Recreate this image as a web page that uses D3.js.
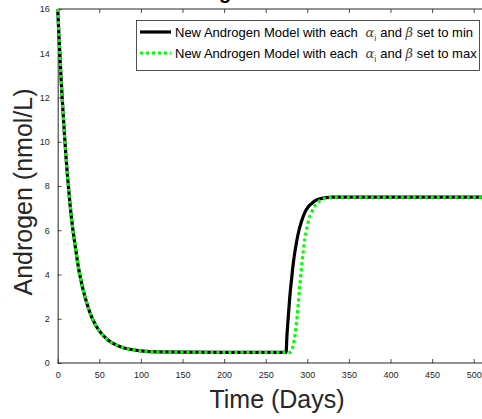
<!DOCTYPE html>
<html>
<head>
<meta charset="utf-8">
<script src="https://cdn.jsdelivr.net/npm/d3@7"></script>
<style>
  body { margin: 0; background: #fff; }
  text { font-family: "Liberation Sans", Arial, sans-serif; }
</style>
</head>
<body>
<svg id="chart" width="482" height="419"></svg>
<script>
// shared decay phase (both parameter sets overlap here)
let decayDays = [0, 2, 4, 6, 8, 10, 12, 15, 18, 21, 25, 30, 35, 40, 45, 50, 60, 70, 80, 90, 100, 120, 150, 200, 250];
let decayVals = [16, 14.4, 12.9, 11.6, 10.4, 9.3, 8.35, 7.1, 6.1, 5.3, 4.3, 3.4, 2.7, 2.15, 1.75, 1.45, 1.05, 0.82, 0.68, 0.6, 0.55, 0.5, 0.49, 0.48, 0.48];

// recovery phase, min parameters
let minDays = [274.5, 275.5, 277, 279, 281, 283, 285, 287, 290, 293, 297, 301, 305, 310, 315, 322, 330, 400, 510];
let minVals = [0.48, 1.2, 2.0, 3.0, 3.75, 4.45, 5.0, 5.45, 6.0, 6.4, 6.8, 7.05, 7.2, 7.35, 7.42, 7.47, 7.5, 7.5, 7.5];

// recovery phase, max parameters
let maxDays = [279, 281, 283, 285, 287, 289, 291, 293, 295, 297, 299, 302, 305, 309, 314, 320, 328, 340, 400, 510];
let maxVals = [0.48, 0.55, 0.8, 1.2, 1.8, 2.6, 3.5, 4.3, 5.0, 5.6, 6.0, 6.5, 6.8, 7.1, 7.3, 7.42, 7.48, 7.5, 7.5, 7.5];

let xTicks = d3.range(0, 501, 50);
let yTicks = d3.range(0, 17, 2);
let legendLabels = ['set to min', 'set to max'];

let svg = d3.select('#chart');
let x = d3.scaleLinear().domain([0, 510]).range([57.7, 482]);
let y = d3.scaleLinear().domain([0, 16]).range([363, 9]);

function series(days, vals){
  let pts = decayDays.map((d, i) => [d, decayVals[i]]);
  return pts.concat(days.map((d, i) => [d, vals[i]]));
}

let line = d3.line()
  .x(d => x(d[0]))
  .y(d => y(d[1]))
  .curve(d3.curveMonotoneX);

// title (mostly cut off above the frame, as in the source figure)
svg.append('text')
  .attr('x', 160).attr('y', -1)
  .style('font-size', '20px').style('font-weight', 'bold')
  .style('fill', '#000')
  .text('Androgen');

// axes, MATLAB style inward ticks
let axisCol = '#262626';
let gx = svg.append('g').attr('transform', `translate(0,${y(0)})`)
  .call(d3.axisBottom(x).tickValues(xTicks).tickSizeInner(-4).tickSizeOuter(0).tickPadding(9));
let gxTop = svg.append('g').attr('transform', `translate(0,${y(16)})`)
  .call(d3.axisTop(x).tickValues(xTicks).tickSizeInner(-4).tickSizeOuter(0).tickFormat(''));
let gy = svg.append('g').attr('transform', `translate(${x(0)},0)`)
  .call(d3.axisLeft(y).tickValues(yTicks).tickSizeInner(-4).tickSizeOuter(0).tickPadding(8));

[gx, gxTop, gy].forEach(g => {
  g.select('.domain').attr('stroke', axisCol).attr('stroke-width', 1);
  g.selectAll('.tick line').attr('stroke', axisCol).attr('stroke-width', 0.8);
  g.selectAll('.tick text').style('font-size', '9px').style('fill', axisCol)
    .style('font-family', '"Liberation Sans", Arial, sans-serif');
});
gx.select('.domain').attr('d', `M${x(0)},0H482`);
gxTop.select('.domain').attr('d', `M${x(0)},0H482`);

// lines
svg.append('path')
  .datum(series(minDays, minVals))
  .attr('d', line)
  .attr('fill', 'none')
  .attr('stroke', '#000')
  .attr('stroke-width', 3.2);

svg.append('path')
  .datum(series(maxDays, maxVals))
  .attr('d', line)
  .attr('fill', 'none')
  .attr('stroke', '#00ff00')
  .attr('stroke-width', 3.2)
  .attr('stroke-dasharray', '3,3');

// axis labels
svg.append('text')
  .attr('x', 277).attr('y', 408)
  .attr('text-anchor', 'middle')
  .style('font-size', '25px').style('fill', axisCol)
  .text('Time (Days)');

svg.append('text')
  .attr('transform', 'translate(32,192) rotate(-90)')
  .attr('text-anchor', 'middle')
  .style('font-size', '25px').style('fill', axisCol)
  .text('Androgen (nmol/L)');

// legend
let legend = svg.append('g').attr('class', 'legend');
legend.append('rect')
  .attr('x', 136.5).attr('y', 20.5)
  .attr('width', 343).attr('height', 50)
  .attr('fill', '#fff').attr('stroke', axisCol).attr('stroke-width', 0.8);

let rows = legend.selectAll('g.row')
  .data(legendLabels)
  .enter().append('g')
  .attr('class', 'row')
  .attr('transform', (d, i) => `translate(0,${32 + i * 21})`);

rows.append('line')
  .attr('x1', 140).attr('x2', 171).attr('y1', 0).attr('y2', 0)
  .attr('stroke', (d, i) => i == 0 ? '#000' : '#00ff00')
  .attr('stroke-width', 3.2)
  .attr('stroke-dasharray', (d, i) => i == 0 ? null : '3,3');

let txt = rows.append('text')
  .attr('x', 175).attr('y', 5)
  .style('font-size', '13px').style('fill', '#000');
txt.append('tspan').text('New Androgen Model with each ');
txt.append('tspan').attr('dx', 4)
  .style('font-family', '"DejaVu Serif", serif').style('font-style', 'italic').style('fill', '#444')
  .text('α');
txt.append('tspan').attr('dy', 4).style('font-size', '9px').style('fill', '#444').text('i');
txt.append('tspan').attr('dy', -4).attr('dx', 4).text('and ');
txt.append('tspan')
  .style('font-family', '"DejaVu Serif", serif').style('font-style', 'italic').style('fill', '#444')
  .text('β');
txt.append('tspan').text(d => ' ' + d);
</script>
</body>
</html>
